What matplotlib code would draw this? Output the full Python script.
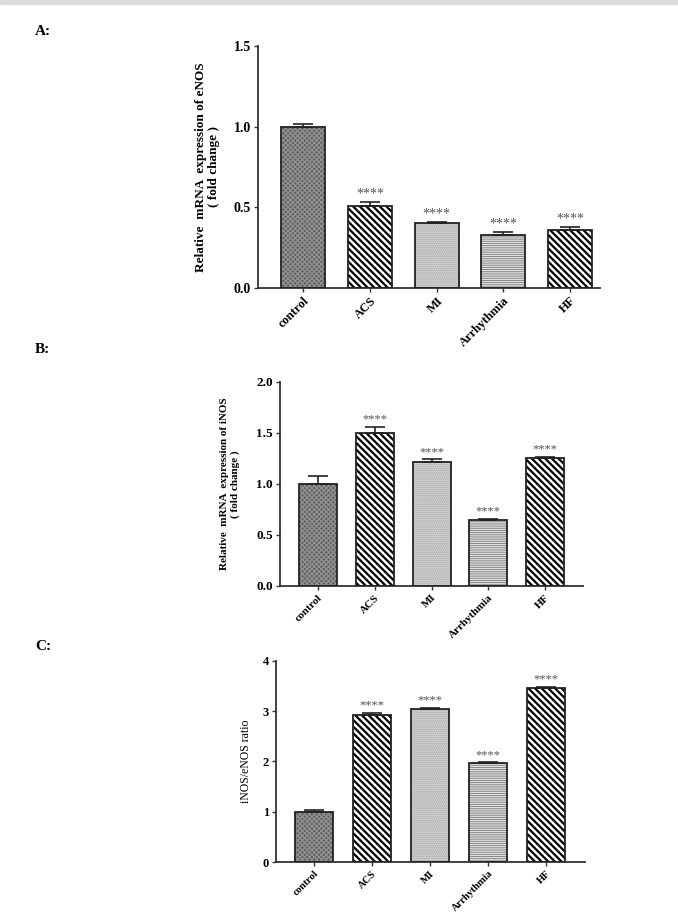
import matplotlib
matplotlib.use('Agg')
import matplotlib.pyplot as plt
import numpy as np

plt.rcParams['font.family'] = ['Liberation Serif', 'DejaVu Serif']

groups = ['control', 'ACS', 'MI', 'Arrhythmia', 'HF']

# panel A: eNOS
enos = [1.00, 0.51, 0.40, 0.33, 0.36]
enos_err = [0.015, 0.025, 0.01, 0.018, 0.016]

# panel B: iNOS
inos = [1.00, 1.50, 1.22, 0.65, 1.25]
inos_err = [0.075, 0.058, 0.022, 0.01, 0.018]

# panel C: ratio
ratio = [0.99, 2.92, 3.04, 1.96, 3.46]
ratio_err = [0.05, 0.05, 0.02, 0.02, 0.02]

stars = ['', '****', '****', '****', '****']

# face, hatch, hatch colour, hatch width per group
styles = [
    ('#5e5e5e', 'xxxxxxx', '#929292', 0.9),
    ('white', '\\' * 5, 'black', 1.6),
    ('#dcdcdc', '........', '#a0a0a0', 0.9),
    ('white', '-' * 9, '#8a8a8a', 0.8),
    ('white', '\\' * 5, 'black', 1.6),
]


def draw_panel(ax, vals, errs, yticks, yfmt, ylabel, ylabel_kw, xlim, width,
               tick_fs, xtick_fs, star_fs, star_off):
    x = np.arange(len(groups))
    for i, (face, hatch, hcol, hlw) in enumerate(styles):
        with plt.rc_context({'hatch.linewidth': hlw}):
            ax.bar(x[i], vals[i], width, color=face, hatch=hatch,
                   edgecolor=hcol, linewidth=0, zorder=2)
    ax.bar(x, vals, width, fill=False, edgecolor='#222222', linewidth=1.3,
           zorder=3)
    ax.errorbar(x, vals, yerr=[[0] * len(vals), errs], fmt='none',
                ecolor='#222222', elinewidth=1.2, capsize=7, capthick=1.2,
                zorder=4)
    for i, s in enumerate(stars):
        if s:
            ax.annotate(s, (x[i], vals[i] + errs[i]), xytext=(0, star_off),
                        textcoords='offset points', ha='center', va='bottom',
                        fontsize=star_fs, color='#555555')
    ax.set_xlim(*xlim)
    ax.set_ylim(yticks[0], yticks[-1])
    ax.set_yticks(yticks)
    ax.set_yticklabels([yfmt.format(t) for t in yticks], fontsize=tick_fs,
                       fontweight='bold')
    ax.set_xticks(x)
    ax.set_xticklabels(groups, rotation=45, ha='right', rotation_mode='anchor',
                       fontsize=xtick_fs, fontweight='bold')
    for side in ['top', 'right']:
        ax.spines[side].set_visible(False)
    for side in ['left', 'bottom']:
        ax.spines[side].set_linewidth(1.3)
        ax.spines[side].set_color('#333333')
    ax.tick_params(axis='both', length=3, width=1, color='#333333', pad=2)
    ax.set_ylabel(ylabel, **ylabel_kw)


fig = plt.figure(figsize=(6.78, 9.18), dpi=100)

# thin grey page edge at the top
fig.add_artist(plt.Rectangle((0, 0.996), 1, 0.004, transform=fig.transFigure,
                             color='#dddddd', zorder=0))

axA = fig.add_axes([0.3805, 0.6863, 0.5044, 0.2636])
draw_panel(axA, enos, enos_err, [0.0, 0.5, 1.0, 1.5], '{:.1f}',
           'Relative  mRNA  expression of eNOS\n( fold change )',
           dict(fontsize=9.5, fontweight='bold', labelpad=10, linespacing=1.1),
           (-0.683, 4.45), 0.66, 10, 9, 10, 1)

axB = fig.add_axes([0.413, 0.3617, 0.4469, 0.2222])
draw_panel(axB, inos, inos_err, [0.0, 0.5, 1.0, 1.5, 2.0], '{:.1f}',
           'Relative  mRNA  expression of iNOS\n( fold change )',
           dict(fontsize=8, fontweight='bold', labelpad=12, linespacing=1.1),
           (-0.67, 4.67), 0.67, 9.5, 8, 9, 1)

axC = fig.add_axes([0.4071, 0.061, 0.4558, 0.219])
draw_panel(axC, ratio, ratio_err, [0, 1, 2, 3, 4], '{:d}',
           'iNOS/eNOS ratio',
           dict(fontsize=8.5, labelpad=8),
           (-0.655, 4.67), 0.655, 9, 7.5, 9, 1)

fig.text(0.052, 0.966, 'A:', fontsize=11, fontweight='bold', va='center')
fig.text(0.052, 0.619, 'B:', fontsize=11, fontweight='bold', va='center')
fig.text(0.052, 0.296, 'C:', fontsize=11, fontweight='bold', va='center')

fig.savefig('out.png', dpi=100)
